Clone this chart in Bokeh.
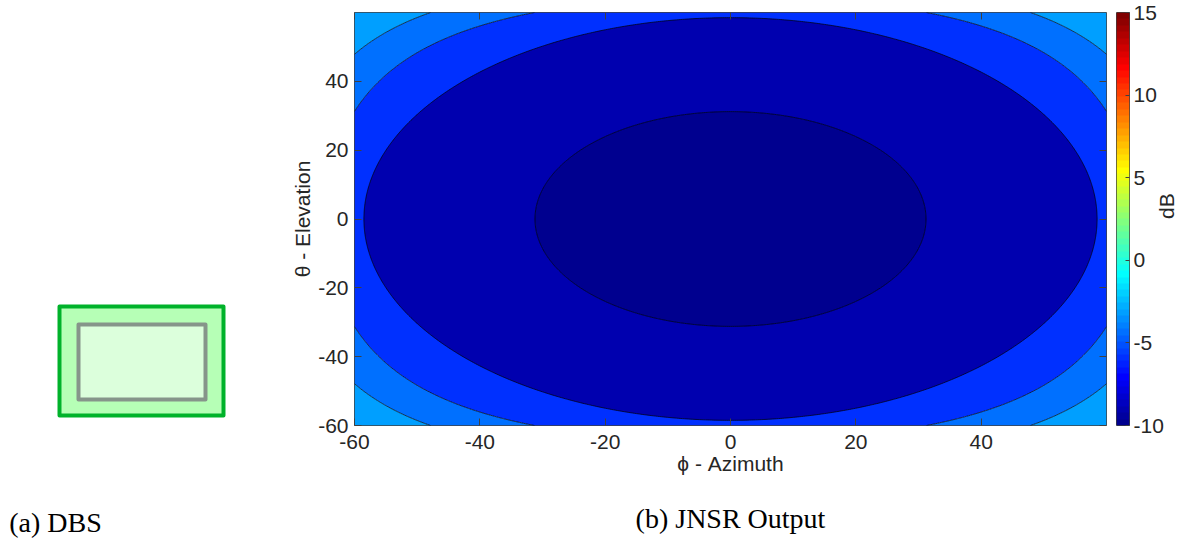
import math
import numpy as np
from bokeh.plotting import figure
from bokeh.models import Range1d, LinearAxis, FixedTicker, LinearColorMapper
from bokeh.layouts import row
from bokeh.embed import file_html
from bokeh.resources import INLINE

# ---------------- data ----------------
azimuth_limits = [-60, 60]
elevation_limits = [-60, 60]
x_ticks = [-60, -40, -20, 0, 20, 40]
y_ticks = [-60, -40, -20, 0, 20, 40]
cbar_limits = [-10, 15]
cbar_ticks = [-10, -5, 0, 5, 10, 15]
# JNSR value (dB) of each filled band, from the centre outwards
band_db = [-10.0, -9.2, -6.0, -4.5, -3.3]
# contour lines of the two inner bands: radius (deg) around boresight
boundary_radius_deg = [31.2, 58.5]
# contour lines of the two outer bands: off-boresight angle (deg)
boundary_offaxis_deg = [64.7, 70.4]
x_label = "\u03d5 - Azimuth"
y_label = "\u03b8 - Elevation"
cbar_label = "dB"
caption_a = "(a) DBS"
caption_b = "(b) JNSR Output"

TXT = "#262626"
SANS = "Liberation Sans"
SERIF = "Liberation Serif"
H = 543
TOP = 12
BOTTOM = 118
AXIS_PROPS = LinearAxis.properties()


def jet(m=64):
    n = int(np.ceil(m / 4))
    u = np.concatenate([np.arange(1, n + 1) / n, np.ones(n - 1), np.arange(n, 0, -1) / n])
    g = int(np.ceil(n / 2)) - (1 if m % 4 == 1 else 0) + np.arange(1, len(u) + 1)
    r = g + n
    b = g - n
    cmap = np.zeros((m, 3))
    for idx, ch in ((r, 0), (g, 1), (b, 2)):
        mask = (idx >= 1) & (idx <= m)
        cmap[idx[mask] - 1, ch] = u[mask]
    return ["#%02x%02x%02x" % tuple(int(round(c * 255)) for c in rowc) for rowc in cmap]


JET = jet(64)


def jet_color(v):
    lo, hi = cbar_limits
    k = int(np.floor((v - lo) / (hi - lo) * len(JET)))
    return JET[max(0, min(len(JET) - 1, k))]


band_colors = [jet_color(v) for v in band_db]

# fields on the azimuth/elevation grid
az = np.linspace(azimuth_limits[0], azimuth_limits[1], 361)
el = np.linspace(elevation_limits[0], elevation_limits[1], 361)
AZd, ELd = np.meshgrid(az, el)
radius = np.hypot(AZd, ELd)
offaxis = np.degrees(np.arccos(np.clip(np.cos(np.radians(AZd)) * np.cos(np.radians(ELd)), -1, 1)))


def caption_axis(text, standoff):
    cap = LinearAxis(ticker=FixedTicker(ticks=[]))
    cap.axis_line_color = None
    cap.major_tick_line_color = None
    cap.minor_tick_line_color = None
    cap.major_label_standoff = 0
    cap.axis_label = text
    cap.axis_label_text_font = SERIF
    cap.axis_label_text_font_size = "28px"
    cap.axis_label_text_font_style = "normal"
    cap.axis_label_text_color = "black"
    cap.axis_label_standoff = standoff
    return cap


# ---------------- left panel (icon + caption a) ----------------
LEFT_A = 55
pl = figure(width=288, height=H, x_range=Range1d(LEFT_A, 288), y_range=Range1d(H - BOTTOM, TOP),
            x_axis_location=None, y_axis_location=None, toolbar_location=None,
            output_backend="svg", min_border_left=LEFT_A, min_border_right=0,
            min_border_top=TOP, min_border_bottom=BOTTOM, outline_line_color=None)
pl.grid.visible = False
pl.quad(left=[59], right=[223], top=[306], bottom=[415], fill_color="#b6ffb6",
        line_color="#00b22a", line_width=4, line_join="round")
pl.quad(left=[78], right=[205], top=[324], bottom=[399], fill_color="#dcffdc",
        line_color="#86958a", line_width=4, line_join="round")
cap_a = caption_axis(caption_a, 81)
if "axis_label_align" in AXIS_PROPS:
    cap_a.axis_label_align = "start"
pl.add_layout(cap_a, "below")

# ---------------- main contour plot ----------------
p = figure(width=828, height=H, x_range=Range1d(*azimuth_limits), y_range=Range1d(*elevation_limits),
           x_axis_location=None, y_axis_location=None, toolbar_location=None,
           output_backend="svg", min_border_left=65, min_border_right=10,
           min_border_top=TOP, min_border_bottom=BOTTOM)
p.grid.visible = False
p.outline_line_color = "#404040"
p.outline_line_width = 1

# outer bands (corner regions)
p.contour(x=az, y=el, z=offaxis,
          levels=[-1.0] + boundary_offaxis_deg + [91.0],
          fill_color=band_colors[2:], line_color="black", line_width=0.7)
# inner bands (central ellipse and surrounding lens)
p.contour(x=az, y=el, z=radius,
          levels=[-1.0] + boundary_radius_deg,
          fill_color=band_colors[:2], line_color="black", line_width=0.7)


def style_axis(ax, ticks, label=None, show_labels=True):
    ax.ticker = FixedTicker(ticks=ticks)
    ax.axis_line_color = None
    ax.minor_tick_line_color = None
    ax.major_tick_in = 7
    ax.major_tick_out = 0
    ax.major_tick_line_color = "#404040"
    ax.major_label_text_font = SANS
    if show_labels:
        ax.major_label_text_font_size = "21px"
        ax.major_label_text_color = TXT
        ax.major_label_overrides = {t: str(t) for t in ticks}
    else:
        ax.major_label_text_font_size = "1px"
        ax.major_label_text_color = None
        ax.major_label_standoff = 0
    if label is not None:
        ax.axis_label = label
        ax.axis_label_text_font = SANS
        ax.axis_label_text_font_size = "21px"
        ax.axis_label_text_font_style = "normal"
        ax.axis_label_text_color = TXT
    return ax


xb = style_axis(LinearAxis(), x_ticks, x_label)
xb.major_label_standoff = 9
xb.axis_label_standoff = 0
p.add_layout(xb, "below")
p.add_layout(caption_axis(caption_b, 25), "below")

yl = style_axis(LinearAxis(), y_ticks, y_label)
yl.major_label_standoff = 6
yl.axis_label_standoff = 1
p.add_layout(yl, "left")

p.add_layout(style_axis(LinearAxis(), x_ticks, show_labels=False), "above")
p.add_layout(style_axis(LinearAxis(), y_ticks, show_labels=False), "right")

# ---------------- colour bar ----------------
pc = figure(width=76, height=H, x_range=Range1d(0, 1), y_range=Range1d(*cbar_limits),
            x_axis_location=None, y_axis_location=None, toolbar_location=None,
            output_backend="svg", min_border_left=0, min_border_right=58,
            min_border_top=TOP, min_border_bottom=BOTTOM)
pc.grid.visible = False
pc.outline_line_color = "#404040"
mapper = LinearColorMapper(palette=JET, low=cbar_limits[0], high=cbar_limits[1])
step = (cbar_limits[1] - cbar_limits[0]) / len(JET)
grad = np.linspace(cbar_limits[0] + step / 2, cbar_limits[1] - step / 2, len(JET)).reshape(-1, 1)
pc.image(image=[grad], x=0, y=cbar_limits[0], dw=1, dh=cbar_limits[1] - cbar_limits[0],
         color_mapper=mapper)
cb_ax = style_axis(LinearAxis(), cbar_ticks, cbar_label)
cb_ax.major_tick_in = 4
cb_ax.major_label_standoff = 4
cb_ax.axis_label_standoff = 0
if "axis_label_orientation" in AXIS_PROPS:
    cb_ax.axis_label_orientation = math.pi / 2
pc.add_layout(cb_ax, "right")

layout = row(pl, p, pc)
open("out.html", "w").write(file_html(layout, INLINE))
